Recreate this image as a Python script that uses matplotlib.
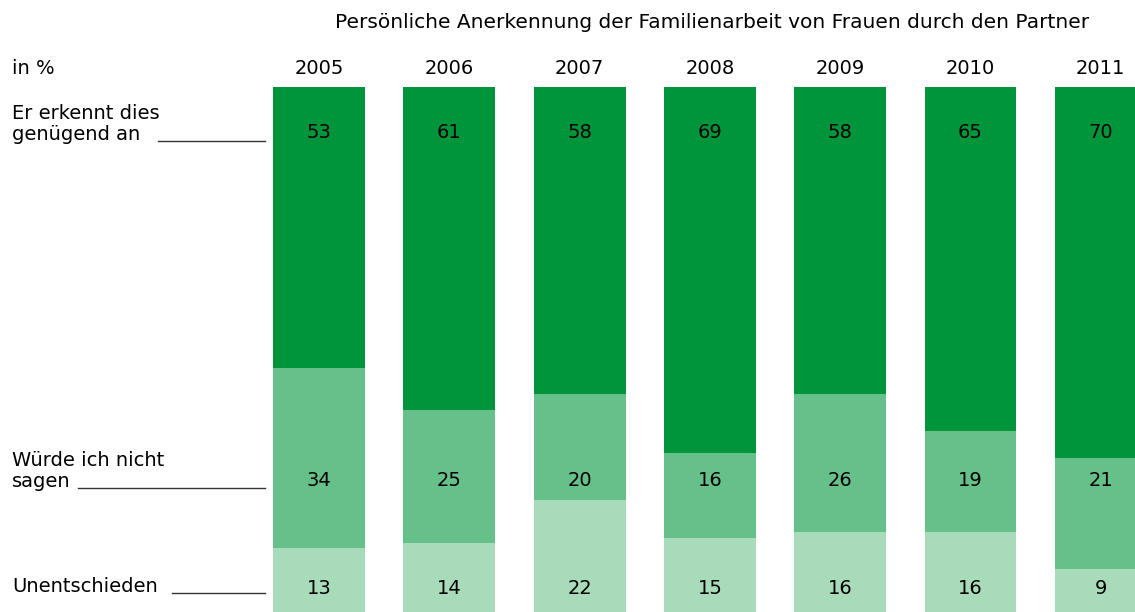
import matplotlib
matplotlib.use("Agg")
import matplotlib.pyplot as plt

years = ["2005", "2006", "2007", "2008", "2009", "2010", "2011"]
anerkennung = [53, 61, 58, 69, 58, 65, 70]
nicht_sagen = [34, 25, 20, 16, 26, 19, 21]
unentschieden = [13, 14, 22, 15, 16, 16, 9]

categories = ["Er erkennt dies\ngenügend an", "Würde ich nicht\nsagen", "Unentschieden"]
title = "Persönliche Anerkennung der Familienarbeit von Frauen durch den Partner"

c_dark = "#00953a"
c_mid = "#66c08a"
c_light = "#a8dbba"

plt.rcParams["font.family"] = ["DejaVu Sans"]
FS = 14

W, H = 1135, 612
fig = plt.figure(figsize=(W / 100, H / 100), dpi=100)
ax = fig.add_axes([0, 0, 1, 1])


def px(x, y):
    # pixel position (from top-left) -> figure fraction
    return x / W, 1 - y / H


x = list(range(len(years)))
bw = 0.706
ax.bar(x, unentschieden, width=bw, color=c_light)
ax.bar(x, nicht_sagen, width=bw, bottom=unentschieden, color=c_mid)
bottoms = [a + b for a, b in zip(unentschieden, nicht_sagen)]
ax.bar(x, anerkennung, width=bw, bottom=bottoms, color=c_dark)

step = 130.3
x0 = -319 / step
ax.set_xlim(x0, x0 + W / step)
ppu = 5.3  # pixels per percent
ax.set_ylim(100 - (H - 87) / ppu, 100 + 87 / ppu)
ax.axis("off")

# value labels sit in fixed rows
for i in x:
    xc = (319 + step * i) / W
    fig.text(xc, 1 - 133 / H, str(anerkennung[i]), ha="center", va="center", fontsize=FS)
    fig.text(xc, 1 - 480 / H, str(nicht_sagen[i]), ha="center", va="center", fontsize=FS)
    fig.text(xc, 1 - 588 / H, str(unentschieden[i]), ha="center", va="center", fontsize=FS)
    fig.text(xc, 1 - 68 / H, years[i], ha="center", va="center", fontsize=FS)

fig.text(*px(1089, 22), title, ha="right", va="center", fontsize=14.5)
fig.text(*px(12, 68), "in %", ha="left", va="center", fontsize=FS)

fig.text(*px(12, 124), categories[0], ha="left", va="center", fontsize=FS, linespacing=1.15)
fig.text(*px(12, 471), categories[1], ha="left", va="center", fontsize=FS, linespacing=1.15)
fig.text(*px(12, 587), categories[2], ha="left", va="center", fontsize=FS)

for xa, xb, yy in [(158, 265, 141), (78, 265, 488), (172, 265, 593)]:
    fig.add_artist(plt.Line2D([xa / W, xb / W], [1 - yy / H, 1 - yy / H],
                              color="#333333", lw=1.0, transform=fig.transFigure))

fig.savefig("out.png", dpi=100)
